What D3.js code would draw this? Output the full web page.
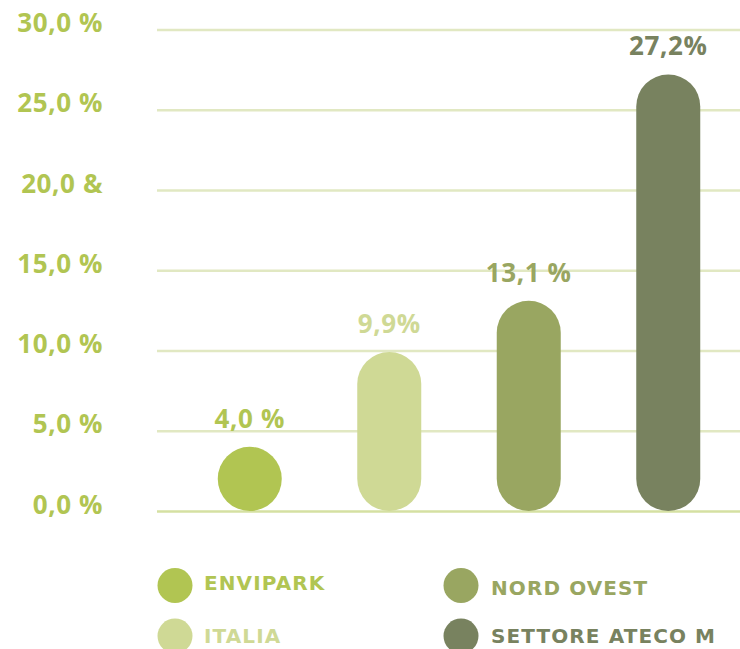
<!DOCTYPE html>
<html>
<head>
<meta charset="utf-8">
<script src="https://cdn.jsdelivr.net/npm/d3@7"></script>
<style>
  html, body { margin: 0; padding: 0; background: #ffffff; }
  svg { display: block; }
  .num { font-family: "Open Sans", sans-serif; font-weight: 700; }
  .leg { font-family: "DejaVu Sans", sans-serif; font-weight: 700; }
</style>
</head>
<body>
<svg id="chart" width="740" height="649"></svg>
<script>
// Categories and values (percent)
const categories = ["ENVIPARK", "ITALIA", "NORD OVEST", "SETTORE ATECO M"];
const values = [4.0, 9.9, 13.1, 27.2];
const valueLabels = ["4,0 %", "9,9%", "13,1 %", "27,2%"];
const colors = ["#b1c552", "#cfd995", "#99a661", "#78825f"];

// Y axis ticks
const tickValues = [0, 5, 10, 15, 20, 25, 30];
const tickLabels = ["0,0 %", "5,0 %", "10,0 %", "15,0 %", "20,0 &", "25,0 %", "30,0 %"];

const W = 740, H = 649;
const svg = d3.select("#chart");

const y = d3.scaleLinear().domain([0, 30]).range([511, 29.5]);
const x = d3.scaleBand()
  .domain(categories)
  .range([180, 738])
  .paddingInner(0.5412)
  .paddingOuter(0.2706);

// Gridlines
const grid = svg.append("g")
  .attr("transform", "translate(157,0)")
  .call(d3.axisRight(y).tickValues(tickValues).tickSize(W - 157).tickFormat(""));
grid.select(".domain").remove();
grid.selectAll(".tick line")
  .attr("stroke", d => d === 0 ? "#d5e0a2" : "#e1e8c2")
  .attr("stroke-width", 2.5);

// Y axis labels
const yAxis = svg.append("g")
  .attr("transform", "translate(103,0)")
  .call(d3.axisLeft(y).tickValues(tickValues).tickSize(0).tickPadding(0)
    .tickFormat((d, i) => tickLabels[i]));
yAxis.select(".domain").remove();
yAxis.selectAll("text")
  .attr("class", "num")
  .attr("fill", "#b1c552")
  .attr("font-size", 26)
  .attr("letter-spacing", 0.6)
  .attr("dy", null)
  .attr("y", 2)
  .attr("dominant-baseline", "alphabetic");

// Bars: fully rounded pill shapes
const bw = x.bandwidth();
svg.append("g").selectAll("rect")
  .data(values)
  .join("rect")
  .attr("x", (d, i) => x(categories[i]))
  .attr("y", d => y(d))
  .attr("width", bw)
  .attr("height", d => y(0) - y(d))
  .attr("rx", bw / 2)
  .attr("ry", d => Math.min(bw / 2, (y(0) - y(d)) / 2))
  .attr("fill", (d, i) => colors[i]);

// Value labels above bars
svg.append("g").selectAll("text")
  .data(values)
  .join("text")
  .attr("class", "num")
  .attr("x", (d, i) => x(categories[i]) + bw / 2)
  .attr("y", d => y(d) - 19)
  .attr("text-anchor", "middle")
  .attr("font-size", 26)
  .attr("letter-spacing", 0.6)
  .attr("fill", (d, i) => colors[i])
  .text((d, i) => valueLabels[i]);

// Legend, two columns by two rows
const legCols = [175, 461];
const legRows = [585.5, 636];
const legend = svg.append("g").selectAll("g")
  .data(categories)
  .join("g")
  .attr("transform", (d, i) => `translate(${legCols[Math.floor(i / 2)]},${legRows[i % 2]})`);
legend.append("ellipse")
  .attr("rx", 17.5)
  .attr("ry", 17.5)
  .attr("fill", (d, i) => colors[i]);
legend.append("text")
  .attr("class", "leg")
  .attr("x", (d, i) => i < 2 ? 29 : 30)
  .attr("y", (d, i) => (i % 2 === 0) ? (i < 2 ? 4 : 9) : 7)
  .attr("font-size", 20)
  .attr("letter-spacing", 1.1)
  .attr("fill", (d, i) => colors[i])
  .text(d => d);
</script>
</body>
</html>
